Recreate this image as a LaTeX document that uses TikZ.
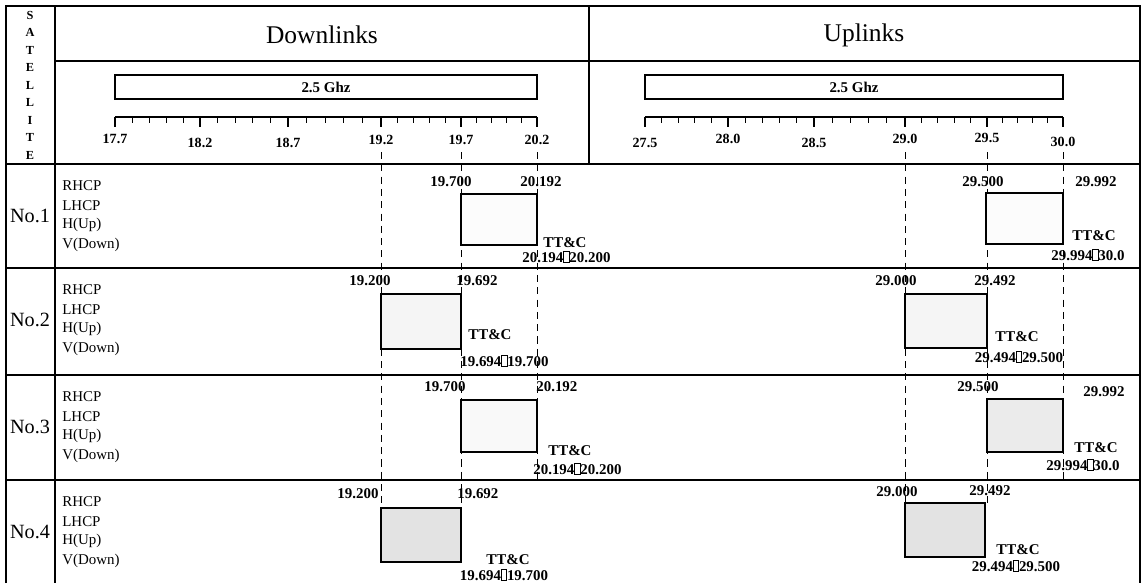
\documentclass[tikz,border=0pt]{standalone}
\usepackage{fontspec}
\setmainfont{Liberation Serif}

% missing-glyph box as printed in the chart
\newcommand{\nogl}{{\fboxsep=0pt\fboxrule=0.35pt\fbox{\rule{0pt}{0.7em}\rule{0.32em}{0pt}}}}

\begin{document}
\begin{tikzpicture}[
  x=0.02cm, y=-0.02cm,
  every node/.style = {inner sep=0pt, font=\fontsize{8.5}{10}\selectfont},
  rule/.style  = {line width=0.7pt},
  guide/.style = {line width=0.45pt, dash pattern=on 4pt off 3pt},
  band/.style  = {line width=0.9pt},
  chan/.style  = {line width=0.7pt},
  freq/.style  = {font=\fontsize{8.5}{10}\selectfont\bfseries},
  scl/.style   = {font=\fontsize{8}{9}\selectfont\bfseries},
  pol/.style   = {anchor=west, font=\fontsize{8.5}{10}\selectfont},
]

\useasboundingbox (0,0) rectangle (1144,583);

%% ── Table frame ──────────────────────────────────────────────────────────────
\draw[rule] (6,583) -- (6,6) -- (1140,6) -- (1140,583);
\draw[rule] (55,6) -- (55,583);
\draw[rule] (55,61) -- (1140,61);
\draw[rule] (589,6) -- (589,164);
\foreach \yr in {164,268,375,480}
  \draw[rule] (6,\yr) -- (1140,\yr);

%% ── Satellite column ─────────────────────────────────────────────────────────
\foreach \ch [count=\i] in {S,A,T,E,L,L,I,T,E}
  \node[font=\fontsize{7}{8}\selectfont\bfseries] (sat\i) at (30,{-2.5+17.5*\i}) {\ch};

%% ── Headers ──────────────────────────────────────────────────────────────────
\node[font=\fontsize{14.5}{16}\selectfont] (hdrDown) at (322,35) {Downlinks};
\node[font=\fontsize{14.5}{16}\selectfont] (hdrUp)   at (864,35) {Uplinks};

%% ── Frequency scales ─────────────────────────────────────────────────────────
\def\ruleY{117}
% downlink band 17.7 - 20.2
\draw[band] (115,75) rectangle (537,99);
\node[freq] (bandDown) at (326,87) {2.5 Ghz};
\draw[band] (115,\ruleY) -- (537,\ruleY);
\foreach \a/\b in {115/200,200/288,288/381,381/461,461/537}{
  \foreach \k in {1,...,4}
    \draw[line width=0.5pt] ({\a+(\b-\a)*\k/5},\ruleY) -- ++(0,6);
}
\foreach \xt/\lab/\yl [count=\i] in {115/17.7/139,200/18.2/143,288/18.7/143,
                                     381/19.2/140,461/19.7/140,537/20.2/140}{
  \draw[band] (\xt,\ruleY) -- (\xt,127);
  \node[scl] (sD\i) at (\xt,\yl) {\lab};
}
% uplink band 27.5 - 30.0
\draw[band] (645,75) rectangle (1063,99);
\node[freq] (bandUp) at (854,87) {2.5 Ghz};
\draw[band] (645,\ruleY) -- (1063,\ruleY);
\foreach \a/\b in {645/728,728/814,814/905,905/987,987/1063}{
  \foreach \k in {1,...,4}
    \draw[line width=0.5pt] ({\a+(\b-\a)*\k/5},\ruleY) -- ++(0,6);
}
\foreach \xt/\lab/\yl [count=\i] in {645/27.5/143,728/28.0/139,814/28.5/143,
                                     905/29.0/139,987/29.5/138,1063/30.0/142}{
  \draw[band] (\xt,\ruleY) -- (\xt,127);
  \node[scl] (sU\i) at (\xt,\yl) {\lab};
}

%% ── Guide lines ──────────────────────────────────────────────────────────────
\foreach \xg in {381,461,905,987}
  \draw[guide] (\xg,152) -- (\xg,505);
\foreach \xg in {537,1063}
  \draw[guide] (\xg,152) -- (\xg,480);

%% ── Channel blocks ───────────────────────────────────────────────────────────
\foreach \xa/\xb/\ya/\yb/\sh in {461/537/194/245/2, 986/1063/193/244/2,
                                 381/461/294/349/8, 905/987/294/348/8,
                                 461/537/400/452/5, 987/1063/399/452/16,
                                 381/461/508/562/22, 905/985/503/557/22}
  \draw[chan, fill=gray!\sh] (\xa,\ya) rectangle (\xb,\yb);

%% ── Row labels ───────────────────────────────────────────────────────────────
\foreach \T/\n in {164/1,268/2,375/3,480/4}{
  \node[font=\fontsize{11.5}{13}\selectfont] (no\n) at (30,\T+52) {No.\n};
  \foreach \p/\lab [count=\j] in {0/RHCP,1/LHCP,2/H(Up),3/V(Down)}
    \node[pol] (r\n p\j) at (62,{\T+22+19.5*\p}) {\lab};
}

%% ── No.1 ─────────────────────────────────────────────────────────────────────
\node[freq] (r1dLo) at (451,182) {19.700};
\node[freq] (r1dHi) at (541,182) {20.192};
\node[freq, anchor=west] (r1dTT) at (543,243) {TT\&C};
\node[freq, anchor=west] (r1dRg) at (522,257) {20.194\nogl 20.200};
\node[freq] (r1uLo) at (983,182) {29.500};
\node[freq] (r1uHi) at (1096,182) {29.992};
\node[freq] (r1uTT) at (1094,236) {TT\&C};
\node[freq] (r1uRg) at (1088,255) {29.994\nogl 30.0};

%% ── No.2 ─────────────────────────────────────────────────────────────────────
\node[freq] (r2dLo) at (370,281) {19.200};
\node[freq] (r2dHi) at (477,281) {19.692};
\node[freq, anchor=west] (r2dTT) at (468,335) {TT\&C};
\node[freq, anchor=west] (r2dRg) at (460,361) {19.694\nogl 19.700};
\node[freq] (r2uLo) at (896,281) {29.000};
\node[freq] (r2uHi) at (995,281) {29.492};
\node[freq] (r2uTT) at (1017,337) {TT\&C};
\node[freq] (r2uRg) at (1019,357) {29.494\nogl 29.500};

%% ── No.3 ─────────────────────────────────────────────────────────────────────
\node[freq] (r3dLo) at (445,387) {19.700};
\node[freq, anchor=west] (r3dHi) at (536,387) {20.192};
\node[freq, anchor=west] (r3dTT) at (548,451) {TT\&C};
\node[freq, anchor=west] (r3dRg) at (533,469) {20.194\nogl 20.200};
\node[freq] (r3uLo) at (978,387) {29.500};
\node[freq] (r3uHi) at (1104,392) {29.992};
\node[freq] (r3uTT) at (1096,448) {TT\&C};
\node[freq] (r3uRg) at (1083,465) {29.994\nogl 30.0};

%% ── No.4 ─────────────────────────────────────────────────────────────────────
\node[freq] (r4dLo) at (358,494) {19.200};
\node[freq, anchor=west] (r4dHi) at (457,494) {19.692};
\node[freq] (r4dTT) at (508,560) {TT\&C};
\node[freq] (r4dRg) at (504,575) {19.694\nogl 19.700};
\node[freq] (r4uLo) at (897,492) {29.000};
\node[freq] (r4uHi) at (990,491) {29.492};
\node[freq] (r4uTT) at (1018,550) {TT\&C};
\node[freq] (r4uRg) at (1016,566) {29.494\nogl 29.500};

\end{tikzpicture}
\end{document}
